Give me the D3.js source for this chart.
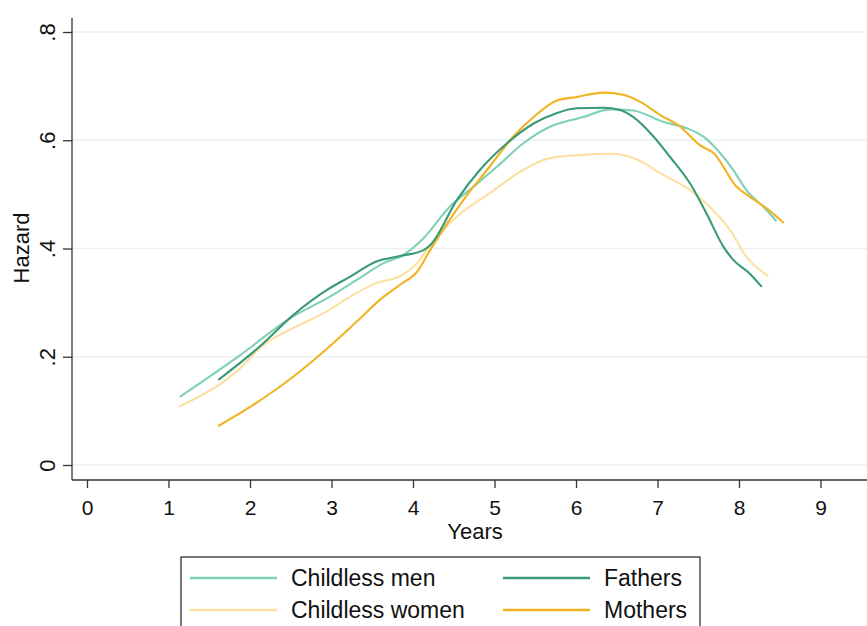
<!DOCTYPE html>
<html>
    <head>
        <meta charset="utf-8">
        <title>Hazard by years</title>
        <script src='https://d3js.org/d3.v7.min.js'></script>
        <style>
            body { margin: 0; background: #fff; }
            text { font-family: "Liberation Sans", Arial, sans-serif; fill: #111; }
        </style>
    </head>
    <body>
        <svg width="867" height="626"></svg>

        <script>
            // data (years, hazard)
            const menYears   = [1.14, 1.88, 2.49, 2.98, 3.31, 3.64, 3.88, 4.13, 4.45, 4.74, 5.03, 5.35, 5.68, 6.09, 6.42, 6.70, 7.07, 7.36, 7.56, 7.77, 7.93, 8.09, 8.30, 8.46]
            const menHazard  = [0.126, 0.203, 0.271, 0.311, 0.342, 0.373, 0.388, 0.419, 0.477, 0.514, 0.551, 0.594, 0.625, 0.643, 0.657, 0.655, 0.634, 0.622, 0.607, 0.576, 0.545, 0.508, 0.477, 0.450]

            const fathersYears  = [1.61, 2.12, 2.53, 2.94, 3.23, 3.55, 3.84, 4.13, 4.21, 4.54, 4.82, 5.15, 5.48, 5.76, 6.01, 6.34, 6.54, 6.70, 6.95, 7.15, 7.40, 7.60, 7.81, 7.93, 8.13, 8.28]
            const fathersHazard = [0.157, 0.219, 0.277, 0.323, 0.348, 0.376, 0.386, 0.397, 0.406, 0.490, 0.545, 0.594, 0.631, 0.650, 0.659, 0.660, 0.656, 0.643, 0.607, 0.570, 0.520, 0.465, 0.403, 0.379, 0.354, 0.329]

            const womenYears  = [1.13, 1.88, 2.12, 2.61, 2.90, 3.23, 3.55, 3.84, 4.05, 4.21, 4.54, 4.94, 5.35, 5.68, 6.09, 6.42, 6.74, 7.07, 7.40, 7.64, 7.89, 8.09, 8.36]
            const womenHazard = [0.108, 0.179, 0.216, 0.259, 0.280, 0.311, 0.336, 0.349, 0.373, 0.406, 0.459, 0.502, 0.545, 0.567, 0.573, 0.575, 0.565, 0.536, 0.508, 0.477, 0.434, 0.385, 0.349]

            const mothersYears  = [1.61, 2.04, 2.53, 3.02, 3.31, 3.64, 3.84, 4.05, 4.21, 4.62, 4.94, 5.23, 5.48, 5.76, 6.01, 6.34, 6.58, 6.79, 7.03, 7.28, 7.52, 7.69, 7.97, 8.13, 8.34, 8.55]
            const mothersHazard = [0.072, 0.111, 0.163, 0.225, 0.265, 0.311, 0.333, 0.357, 0.397, 0.490, 0.551, 0.607, 0.643, 0.673, 0.680, 0.688, 0.684, 0.671, 0.647, 0.625, 0.591, 0.576, 0.514, 0.496, 0.474, 0.447]

            const xTicks = [0, 1, 2, 3, 4, 5, 6, 7, 8, 9]
            const yTicks = [0, 0.2, 0.4, 0.6, 0.8]
            const yTickLabels = ["0", ".2", ".4", ".6", ".8"]

            const seriesNames = ["Childless men", "Fathers", "Childless women", "Mothers"]
            const seriesColors = ["#7fd1b4", "#3a9a74", "#fbe0a2", "#f0b323"]

            const series = [
                { name: seriesNames[0], color: seriesColors[0], xs: menYears, ys: menHazard },
                { name: seriesNames[2], color: seriesColors[2], xs: womenYears, ys: womenHazard },
                { name: seriesNames[3], color: seriesColors[3], xs: mothersYears, ys: mothersHazard },
                { name: seriesNames[1], color: seriesColors[1], xs: fathersYears, ys: fathersHazard }
            ]

            const svg = d3.select("svg")

            // plot area (right side runs off the picture, as in the original)
            const plotLeft = 72, plotRight = 867, plotTop = 18, plotBottom = 480

            const x = d3.scaleLinear().domain([0, 9]).range([87, 820.5])
            const y = d3.scaleLinear().domain([0, 0.8]).range([465, 32])

            // grid
            svg.append("g")
                .selectAll("line")
                .data(yTicks)
                .enter()
                    .append("line")
                        .attr("x1", plotLeft)
                        .attr("x2", plotRight)
                        .attr("y1", d => y(d))
                        .attr("y2", d => y(d))
                        .style("stroke", "#eaf0f4")
                        .style("stroke-width", 1.5)

            // y axis
            const yAxis = svg.append("g")
                .attr("transform", "translate(" + plotLeft + ",0)")
                .call(d3.axisLeft(y).tickValues(yTicks).tickSize(9).tickFormat((d, i) => yTickLabels[i]))
            yAxis.select(".domain").attr("d", "M0," + plotTop + "V" + plotBottom)
            yAxis.selectAll("text")
                .attr("x", null).attr("dy", null)
                .attr("transform", "translate(-17,0) rotate(-90)")
                .style("text-anchor", "middle")
                .style("font-size", "22px")

            // x axis
            const xAxis = svg.append("g")
                .attr("transform", "translate(0," + plotBottom + ")")
                .call(d3.axisBottom(x).tickValues(xTicks).tickSize(8).tickFormat(d3.format("d")))
            xAxis.select(".domain").attr("d", "M" + plotLeft + ",0H" + plotRight)
            xAxis.selectAll("text")
                .attr("y", 35).attr("dy", null)
                .style("font-size", "21px")

            svg.selectAll(".domain, .tick line").style("stroke", "#333").style("stroke-width", 1.3)
            svg.selectAll(".tick text").style("fill", "#111").attr("font-family", null)

            // axis titles
            svg.append("text")
                .attr("x", 475).attr("y", 539)
                .style("text-anchor", "middle")
                .style("font-size", "22px")
                .text("Years")

            svg.append("text")
                .attr("transform", "translate(29,248) rotate(-90)")
                .style("text-anchor", "middle")
                .style("font-size", "22px")
                .text("Hazard")

            // lines
            const line = d3.line()
                .x(d => x(d[0]))
                .y(d => y(d[1]))
                .curve(d3.curveMonotoneX)

            svg.append("g")
                .selectAll("path")
                .data(series)
                .enter()
                    .append("path")
                        .attr("d", s => line(s.xs.map((v, i) => [v, s.ys[i]])))
                        .style("fill", "none")
                        .style("stroke", s => s.color)
                        .style("stroke-width", 2.1)

            // legend
            const legend = svg.append("g")
            legend.append("rect")
                .attr("x", 181).attr("y", 557)
                .attr("width", 519).attr("height", 90)
                .style("fill", "#fff")
                .style("stroke", "#222")
                .style("stroke-width", 1.2)

            const legendItems = seriesNames.map((n, i) => ({ name: n, color: seriesColors[i], col: i % 2, row: Math.floor(i / 2) }))
            const colX = [190, 503], rowY = [578, 610]

            const item = legend.selectAll("g.item")
                .data(legendItems)
                .enter()
                    .append("g")
                        .attr("transform", d => "translate(" + colX[d.col] + "," + rowY[d.row] + ")")
            item.append("line")
                .attr("x1", 0).attr("x2", 87)
                .style("stroke", d => d.color)
                .style("stroke-width", 2.4)
            item.append("text")
                .attr("x", 101).attr("y", 8)
                .style("font-size", "23px")
                .text(d => d.name)
        </script>
    </body>
</html>
